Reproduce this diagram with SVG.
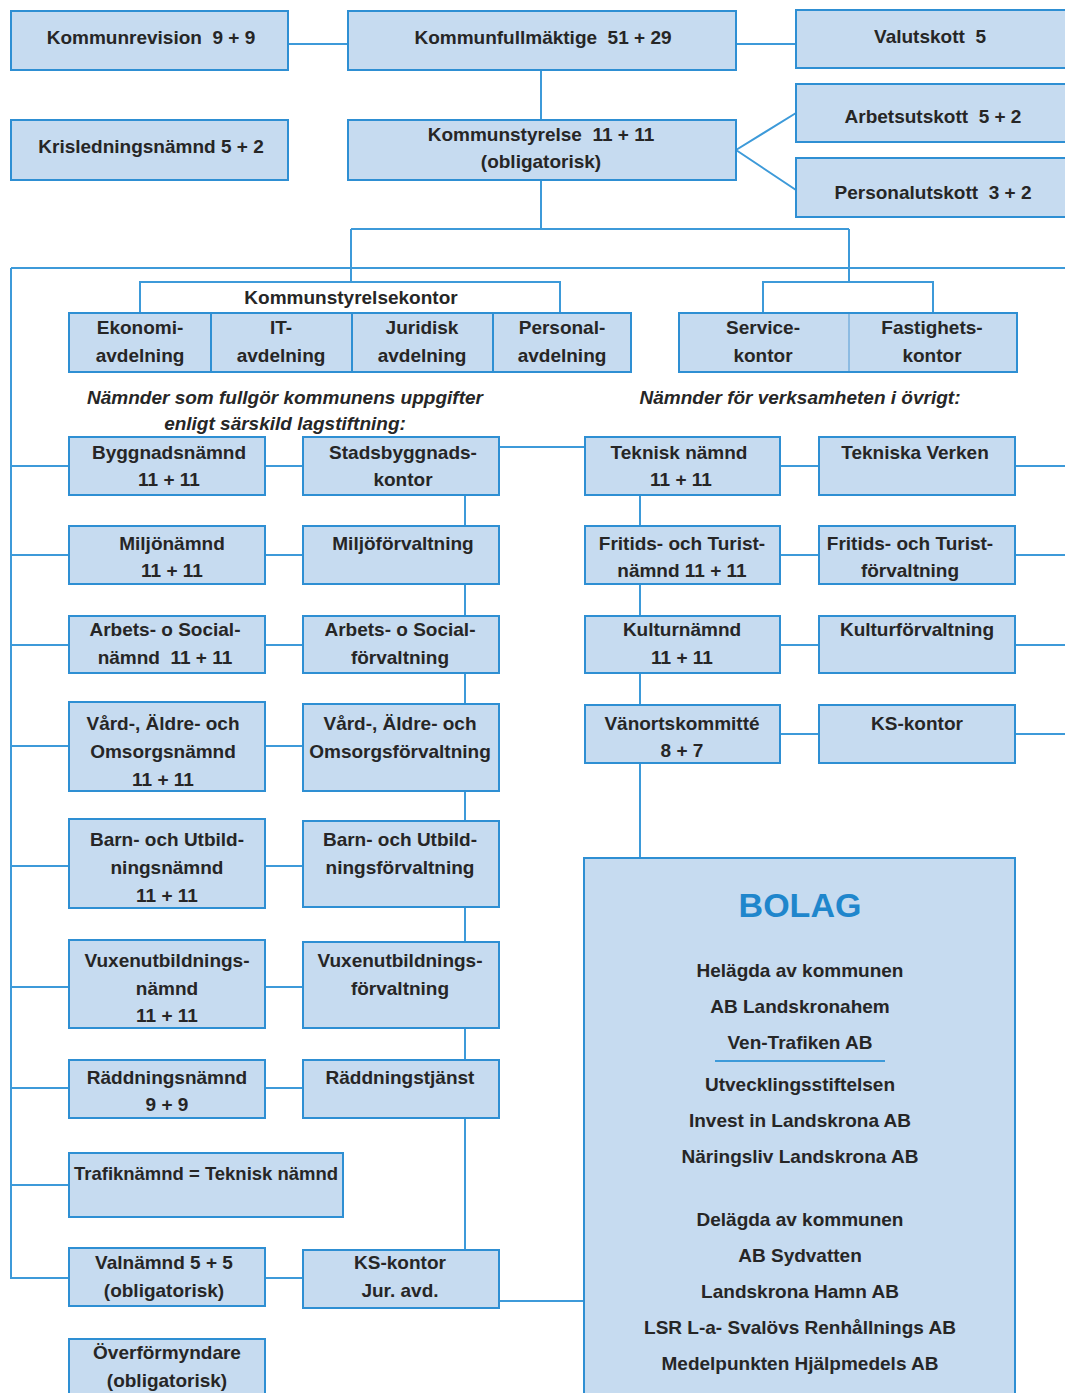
<svg xmlns="http://www.w3.org/2000/svg" width="1065" height="1393" viewBox="0 0 1065 1393">
<style>
.box{fill:#c6dbf0;stroke:#2e8fd3;stroke-width:2}
.t{font-family:"Liberation Sans",Arial,sans-serif;font-weight:bold;font-size:19px;fill:#262626;text-anchor:middle}
.it{font-style:italic}
.c{stroke:#3d9ad9;stroke-width:2;fill:none}
.bolag{font-family:"Liberation Sans",Arial,sans-serif;font-weight:bold;font-size:34px;fill:#1f86cc;text-anchor:middle}
</style>
<rect width="1065" height="1393" fill="#ffffff"/>
<g id="connectors" class="c">
<path d="M288 44H348M736 44H796M541 70V120M541 180V229M351 229H849M351 229V282M849 229V282M11 268H1065"/>
<path d="M140 313V282H560V313M763 313V282H933V313"/>
<path d="M736 150L796 113M736 150L796 190"/>
<path d="M11 268V1278H69"/>
<path d="M11 466H69M11 555H69M11 645H69M11 746H69M11 866H69M11 987H69M11 1088H69M11 1185H69"/>
<path d="M265 466H303M265 555H303M265 645H303M265 746H303M265 866H303M265 987H303M265 1088H303M265 1278H303"/>
<path d="M465 495V1250M499 447H585M640 495V858"/>
<path d="M780 466H819M780 555H819M780 645H819M780 734H819"/>
<path d="M1015 466H1065M1015 555H1065M1015 645H1065M1015 734H1065"/>
<path d="M499 1301H584"/>
</g>
<g id="kommunrevision"><rect class="box" x="11" y="11" width="277" height="59"/><text class="t" x="151" y="44" xml:space="preserve">Kommunrevision  9 + 9</text></g>
<g id="kommunfullmaktige"><rect class="box" x="348" y="11" width="388" height="59"/><text class="t" x="543" y="44" xml:space="preserve">Kommunfullmäktige  51 + 29</text></g>
<g id="valutskott"><rect class="box" x="796" y="10" width="285" height="58"/><text class="t" x="930" y="43" xml:space="preserve">Valutskott  5</text></g>
<g id="krisledningsnamnd"><rect class="box" x="11" y="120" width="277" height="60"/><text class="t" x="151" y="153">Krisledningsnämnd 5 + 2</text></g>
<g id="kommunstyrelse"><rect class="box" x="348" y="120" width="388" height="60"/><text class="t" x="541" y="141" xml:space="preserve">Kommunstyrelse  11 + 11</text><text class="t" x="541" y="168">(obligatorisk)</text></g>
<g id="arbetsutskott"><rect class="box" x="796" y="84" width="285" height="58"/><text class="t" x="933" y="123" xml:space="preserve">Arbetsutskott  5 + 2</text></g>
<g id="personalutskott"><rect class="box" x="796" y="158" width="285" height="59"/><text class="t" x="933" y="199" xml:space="preserve">Personalutskott  3 + 2</text></g>
<g id="kommunstyrelsekontor"><text class="t" x="351" y="304">Kommunstyrelsekontor</text></g>
<g id="ekonomi"><rect class="box" x="69" y="313" width="142" height="59"/><text class="t" x="140" y="334">Ekonomi-</text><text class="t" x="140" y="362">avdelning</text></g>
<g id="it"><rect class="box" x="211" y="313" width="141" height="59"/><text class="t" x="281" y="334">IT-</text><text class="t" x="281" y="362">avdelning</text></g>
<g id="juridisk"><rect class="box" x="352" y="313" width="141" height="59"/><text class="t" x="422" y="334">Juridisk</text><text class="t" x="422" y="362">avdelning</text></g>
<g id="personal"><rect class="box" x="493" y="313" width="138" height="59"/><text class="t" x="562" y="334">Personal-</text><text class="t" x="562" y="362">avdelning</text></g>
<g id="service"><rect class="box" x="679" y="313" width="170" height="59"/><text class="t" x="763" y="334">Service-</text><text class="t" x="763" y="362">kontor</text></g>
<g id="fastighets"><rect class="box" x="849" y="313" width="168" height="59"/><path d="M849 314V371" stroke="#8cbbe2" stroke-width="2"/><text class="t" x="932" y="334">Fastighets-</text><text class="t" x="932" y="362">kontor</text></g>
<g id="rubrik-lag"><text class="t it" x="285" y="404">Nämnder som fullgör kommunens uppgifter</text><text class="t it" x="285" y="430">enligt särskild lagstiftning:</text></g>
<g id="rubrik-ovrigt"><text class="t it" x="800" y="404">Nämnder för verksamheten i övrigt:</text></g>
<g id="byggnadsnamnd"><rect class="box" x="69" y="437" width="196" height="58"/><text class="t" x="169" y="459">Byggnadsnämnd</text><text class="t" x="169" y="486">11 + 11</text></g>
<g id="stadsbyggnadskontor"><rect class="box" x="303" y="437" width="196" height="58"/><text class="t" x="403" y="459">Stadsbyggnads-</text><text class="t" x="403" y="486">kontor</text></g>
<g id="miljonamnd"><rect class="box" x="69" y="526" width="196" height="58"/><text class="t" x="172" y="550">Miljönämnd</text><text class="t" x="172" y="577">11 + 11</text></g>
<g id="miljoforvaltning"><rect class="box" x="303" y="526" width="196" height="58"/><text class="t" x="403" y="550">Miljöförvaltning</text></g>
<g id="arbetssocialnamnd"><rect class="box" x="69" y="616" width="196" height="57"/><text class="t" x="165" y="636">Arbets- o Social-</text><text class="t" x="165" y="664" xml:space="preserve">nämnd  11 + 11</text></g>
<g id="arbetssocialforvaltning"><rect class="box" x="303" y="616" width="196" height="57"/><text class="t" x="400" y="636">Arbets- o Social-</text><text class="t" x="400" y="664">förvaltning</text></g>
<g id="vardnamnd"><rect class="box" x="69" y="702" width="196" height="89"/><text class="t" x="163" y="730">Vård-, Äldre- och</text><text class="t" x="163" y="758">Omsorgsnämnd</text><text class="t" x="163" y="786">11 + 11</text></g>
<g id="vardforvaltning"><rect class="box" x="303" y="704" width="196" height="87"/><text class="t" x="400" y="730">Vård-, Äldre- och</text><text class="t" x="400" y="758">Omsorgsförvaltning</text></g>
<g id="barnnamnd"><rect class="box" x="69" y="819" width="196" height="89"/><text class="t" x="167" y="846">Barn- och Utbild-</text><text class="t" x="167" y="874">ningsnämnd</text><text class="t" x="167" y="902">11 + 11</text></g>
<g id="barnforvaltning"><rect class="box" x="303" y="821" width="196" height="86"/><text class="t" x="400" y="846">Barn- och Utbild-</text><text class="t" x="400" y="874">ningsförvaltning</text></g>
<g id="vuxennamnd"><rect class="box" x="69" y="940" width="196" height="88"/><text class="t" x="167" y="967">Vuxenutbildnings-</text><text class="t" x="167" y="995">nämnd</text><text class="t" x="167" y="1022">11 + 11</text></g>
<g id="vuxenforvaltning"><rect class="box" x="303" y="942" width="196" height="86"/><text class="t" x="400" y="967">Vuxenutbildnings-</text><text class="t" x="400" y="995">förvaltning</text></g>
<g id="raddningsnamnd"><rect class="box" x="69" y="1060" width="196" height="58"/><text class="t" x="167" y="1084">Räddningsnämnd</text><text class="t" x="167" y="1111">9 + 9</text></g>
<g id="raddningstjanst"><rect class="box" x="303" y="1060" width="196" height="58"/><text class="t" x="400" y="1084">Räddningstjänst</text></g>
<g id="trafiknamnd"><rect class="box" x="69" y="1153" width="274" height="64"/><text class="t" x="206" y="1180" textLength="264" lengthAdjust="spacingAndGlyphs">Trafiknämnd = Teknisk nämnd</text></g>
<g id="valnamnd"><rect class="box" x="69" y="1248" width="196" height="58"/><text class="t" x="164" y="1269">Valnämnd 5 + 5</text><text class="t" x="164" y="1297">(obligatorisk)</text></g>
<g id="kskontor-jur"><rect class="box" x="303" y="1250" width="196" height="58"/><text class="t" x="400" y="1269">KS-kontor</text><text class="t" x="400" y="1297">Jur. avd.</text></g>
<g id="overformyndare"><rect class="box" x="69" y="1339" width="196" height="70"/><text class="t" x="167" y="1359">Överförmyndare</text><text class="t" x="167" y="1387">(obligatorisk)</text></g>
<g id="tekniskanamnd"><rect class="box" x="585" y="437" width="195" height="58"/><text class="t" x="679" y="459">Teknisk nämnd</text><text class="t" x="681" y="486">11 + 11</text></g>
<g id="tekniskaverken"><rect class="box" x="819" y="437" width="196" height="58"/><text class="t" x="915" y="459">Tekniska Verken</text></g>
<g id="fritidsnamnd"><rect class="box" x="585" y="526" width="195" height="58"/><text class="t" x="682" y="550">Fritids- och Turist-</text><text class="t" x="682" y="577">nämnd 11 + 11</text></g>
<g id="fritidsforvaltning"><rect class="box" x="819" y="526" width="196" height="58"/><text class="t" x="910" y="550">Fritids- och Turist-</text><text class="t" x="910" y="577">förvaltning</text></g>
<g id="kulturnamnd"><rect class="box" x="585" y="616" width="195" height="57"/><text class="t" x="682" y="636">Kulturnämnd</text><text class="t" x="682" y="664">11 + 11</text></g>
<g id="kulturforvaltning"><rect class="box" x="819" y="616" width="196" height="57"/><text class="t" x="917" y="636">Kulturförvaltning</text></g>
<g id="vanortskommitte"><rect class="box" x="585" y="705" width="195" height="58"/><text class="t" x="682" y="730">Vänortskommitté</text><text class="t" x="682" y="757">8 + 7</text></g>
<g id="kskontor"><rect class="box" x="819" y="705" width="196" height="58"/><text class="t" x="917" y="730">KS-kontor</text></g>
<g id="bolag"><rect class="box" x="584" y="858" width="431" height="560"/>
<text class="bolag" x="800" y="917">BOLAG</text>
<text class="t" x="800" y="977">Helägda av kommunen</text>
<text class="t" x="800" y="1013">AB Landskronahem</text>
<text class="t" x="800" y="1049">Ven-Trafiken AB</text>
<path d="M715 1061H885" class="c"/>
<text class="t" x="800" y="1091">Utvecklingsstiftelsen</text>
<text class="t" x="800" y="1127">Invest in Landskrona AB</text>
<text class="t" x="800" y="1163">Näringsliv Landskrona AB</text>
<text class="t" x="800" y="1226">Delägda av kommunen</text>
<text class="t" x="800" y="1262">AB Sydvatten</text>
<text class="t" x="800" y="1298">Landskrona Hamn AB</text>
<text class="t" x="800" y="1334">LSR L-a- Svalövs Renhållnings AB</text>
<text class="t" x="800" y="1370">Medelpunkten Hjälpmedels AB</text>
</g>
</svg>
